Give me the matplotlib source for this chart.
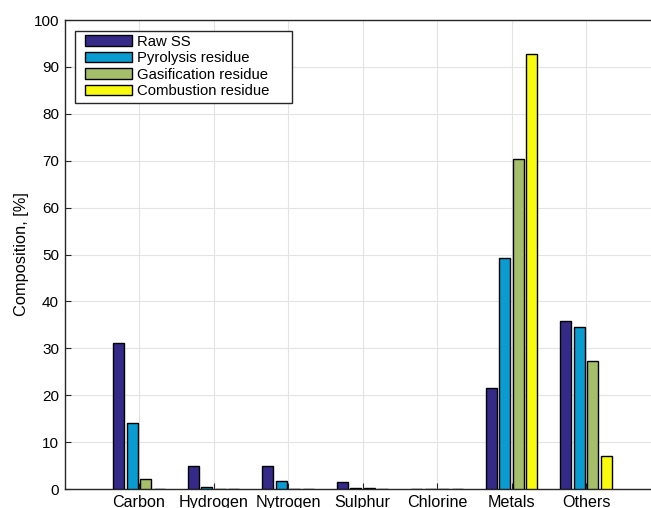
import matplotlib
matplotlib.use("Agg")
import matplotlib.pyplot as plt
from matplotlib.patches import Rectangle
import numpy as np

plt.rcParams['font.family'] = ['Liberation Sans', 'DejaVu Sans']

categories = ["Carbon", "Hydrogen", "Nytrogen", "Sulphur", "Chlorine", "Metals", "Others"]
series_names = ["Raw SS", "Pyrolysis residue", "Gasification residue", "Combustion residue"]
raw_ss = [31.2, 4.8, 5.0, 1.4, 0.1, 21.6, 35.8]
pyrolysis = [14.0, 0.4, 1.6, 0.3, 0.1, 49.2, 34.5]
gasification = [2.2, 0.1, 0.1, 0.2, 0.1, 70.3, 27.2]
combustion = [0.1, 0.05, 0.05, 0.1, 0.1, 92.8, 7.0]
colors = ["#352a87", "#0a9bd0", "#a5be6a", "#f9fb0e"]

fig = plt.figure(figsize=(6.51, 5.08), dpi=100)
ax = fig.add_axes([0.0991, 0.0374, 0.9155, 0.9232])

x = np.arange(1, len(categories) + 1)
offsets = [-0.27, -0.09, 0.09, 0.27]
width = 0.15
for vals, name, c, off in zip([raw_ss, pyrolysis, gasification, combustion], series_names, colors, offsets):
    ax.bar(x + off, vals, width=width, color=c, edgecolor='black', linewidth=1.0, label=name, zorder=3)

ax.set_xlim(0, 8)
ax.set_ylim(0, 100)
ax.set_yticks(np.arange(0, 101, 10))
ax.set_xticks(x)
ax.set_xticklabels(categories)
ax.grid(True, color='#e3e3e3', linewidth=0.8, zorder=0)
ax.set_axisbelow(True)
ax.tick_params(direction='in', length=4, color='#262626', labelcolor='black', pad=4)
ax.tick_params(axis='y', labelsize=11)
ax.tick_params(axis='x', labelsize=11.6)
for s in ['left', 'bottom', 'top']:
    ax.spines[s].set_color('#262626')
    ax.spines[s].set_linewidth(1.0)
ax.spines['right'].set_visible(False)
ax.set_ylabel("Composition, [%]", fontsize=11.8)
ax.yaxis.set_label_coords(-0.059, 0.5)

# legend frame (drawn separately to match asymmetric padding)
frame = Rectangle((0.0176, 0.823), 0.3641, 0.1535, transform=ax.transAxes,
                  facecolor='white', edgecolor='#262626', linewidth=1.0, zorder=9)
ax.add_patch(frame)
leg = ax.legend(loc='upper left', bbox_to_anchor=(0.0344, 0.9687), fontsize=10.7, frameon=False,
                handlelength=3.15, handleheight=0.74,
                labelspacing=0.17, borderpad=0.0, handletextpad=0.33, borderaxespad=0)
leg.set_zorder(10)

fig.savefig("out.png", dpi=100)
